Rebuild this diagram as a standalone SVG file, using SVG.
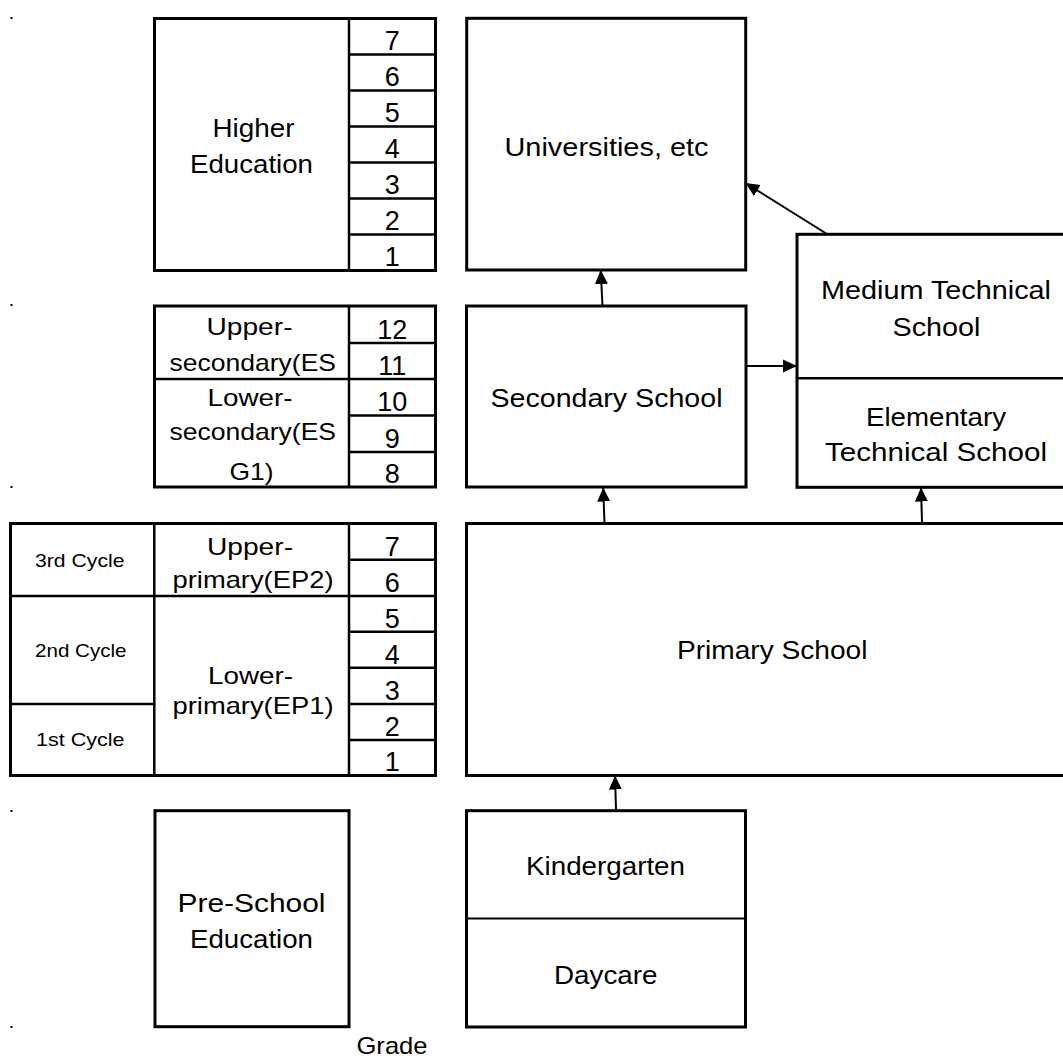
<svg xmlns="http://www.w3.org/2000/svg" width="1063" height="1059" viewBox="0 0 1063 1059">
<style>
.box{fill:#fff;stroke:#000;stroke-width:3}
.ln{stroke:#000;stroke-width:2.5;fill:none}
.thin{stroke:#000;stroke-width:2;fill:none}
text{font-family:"Liberation Sans",Arial,sans-serif;fill:#000}
.t{font-size:26px}
.s{font-size:24px}
.d{font-size:27px;text-anchor:middle}
.c{font-size:19px}
.conn{stroke:#000;stroke-width:2;fill:none;marker-end:url(#ah)}
</style>
<defs>
<marker id="ah" viewBox="0 0 14 14" refX="14" refY="7" markerWidth="14" markerHeight="14" markerUnits="userSpaceOnUse" orient="auto">
<path d="M0,0.5 L14,7 L0,13.5 z" fill="#000"/>
</marker>
</defs>
<rect width="1063" height="1059" fill="#fff"/>

<g id="margin-marks" fill="#000">
<rect x="10.5" y="17" width="2" height="2"/>
<rect x="10.5" y="304" width="2" height="2"/>
<rect x="10.5" y="486" width="2" height="2"/>
<rect x="10.5" y="810" width="2" height="2"/>
<rect x="10.5" y="1026" width="2" height="2"/>
</g>

<g id="higher-education">
<rect class="box" x="154.5" y="18.5" width="281" height="252"/>
<line class="ln" x1="349" y1="18.5" x2="349" y2="270.5"/>
<path class="ln" d="M349,54.5H435.5M349,90.5H435.5M349,126.5H435.5M349,162.5H435.5M349,198.5H435.5M349,234.5H435.5"/>
<text class="t" x="212.5" y="137.3" textLength="82" lengthAdjust="spacingAndGlyphs">Higher</text>
<text class="t" x="190" y="173.3" textLength="123" lengthAdjust="spacingAndGlyphs">Education</text>
<text class="d" x="392.3" y="49.5">7</text>
<text class="d" x="392.3" y="85.5">6</text>
<text class="d" x="392.3" y="121.5">5</text>
<text class="d" x="392.3" y="157.5">4</text>
<text class="d" x="392.3" y="193.5">3</text>
<text class="d" x="392.3" y="229.5">2</text>
<text class="d" x="392.3" y="265.5">1</text>
</g>

<g id="secondary-levels">
<rect class="box" x="154.5" y="306" width="281" height="181"/>
<line class="ln" x1="349" y1="306" x2="349" y2="487"/>
<line class="ln" x1="154.5" y1="379" x2="349" y2="379"/>
<path class="ln" d="M349,343H435.5M349,379H435.5M349,415.5H435.5M349,452H435.5"/>
<text class="s" x="206.5" y="335" textLength="86" lengthAdjust="spacingAndGlyphs">Upper-</text>
<text class="s" x="169.5" y="371" textLength="166.5" lengthAdjust="spacingAndGlyphs">secondary(ES</text>
<text class="s" x="207.5" y="406" textLength="85" lengthAdjust="spacingAndGlyphs">Lower-</text>
<text class="s" x="169.5" y="440" textLength="166.5" lengthAdjust="spacingAndGlyphs">secondary(ES</text>
<text class="s" x="229.5" y="480" textLength="44" lengthAdjust="spacingAndGlyphs">G1)</text>
<text class="d" x="392.3" y="338.5">12</text>
<text class="d" x="392.3" y="374.5">11</text>
<text class="d" x="392.3" y="411">10</text>
<text class="d" x="392.3" y="447.5">9</text>
<text class="d" x="392.3" y="482.5">8</text>
</g>

<g id="primary-levels">
<rect class="box" x="10.5" y="523.5" width="425" height="252"/>
<line class="ln" x1="154.3" y1="523.5" x2="154.3" y2="775.5"/>
<line class="ln" x1="349" y1="523.5" x2="349" y2="775.5"/>
<line class="ln" x1="10.5" y1="596" x2="435.5" y2="596"/>
<line class="ln" x1="10.5" y1="704" x2="154.3" y2="704"/>
<path class="ln" d="M349,559.7H435.5M349,631.8H435.5M349,667.8H435.5M349,704H435.5M349,740H435.5"/>
<text class="c" x="35" y="566.7" textLength="89.5" lengthAdjust="spacingAndGlyphs">3rd Cycle</text>
<text class="c" x="35" y="656.7" textLength="91.5" lengthAdjust="spacingAndGlyphs">2nd Cycle</text>
<text class="c" x="36" y="745.5" textLength="88.5" lengthAdjust="spacingAndGlyphs">1st Cycle</text>
<text class="s" x="207" y="555" textLength="86" lengthAdjust="spacingAndGlyphs">Upper-</text>
<text class="s" x="172.5" y="588" textLength="161" lengthAdjust="spacingAndGlyphs">primary(EP2)</text>
<text class="s" x="208" y="683.5" textLength="85" lengthAdjust="spacingAndGlyphs">Lower-</text>
<text class="s" x="172.5" y="714" textLength="161" lengthAdjust="spacingAndGlyphs">primary(EP1)</text>
<text class="d" x="392.3" y="555.5">7</text>
<text class="d" x="392.3" y="591.5">6</text>
<text class="d" x="392.3" y="627.5">5</text>
<text class="d" x="392.3" y="663.5">4</text>
<text class="d" x="392.3" y="699.5">3</text>
<text class="d" x="392.3" y="735.5">2</text>
<text class="d" x="392.3" y="771">1</text>
</g>

<g id="pre-school-education">
<rect class="box" x="155" y="810.7" width="194" height="216"/>
<text class="t" x="177.5" y="912" textLength="148" lengthAdjust="spacingAndGlyphs">Pre-School</text>
<text class="t" x="190" y="948" textLength="123" lengthAdjust="spacingAndGlyphs">Education</text>
</g>

<g id="grade-label">
<text x="356.5" y="1053.5" font-size="24" textLength="71" lengthAdjust="spacingAndGlyphs">Grade</text>
</g>

<g id="universities">
<rect class="box" x="466.7" y="18.3" width="279" height="251.7"/>
<text class="t" x="504.5" y="155.7" textLength="204" lengthAdjust="spacingAndGlyphs">Universities, etc</text>
</g>

<g id="secondary-school">
<rect class="box" x="466.5" y="306" width="279.5" height="181"/>
<text class="t" x="490.5" y="407" textLength="232" lengthAdjust="spacingAndGlyphs">Secondary School</text>
</g>

<g id="technical-schools">
<rect class="box" x="797" y="234.3" width="290" height="253"/>
<line class="ln" x1="797" y1="378.3" x2="1087" y2="378.3"/>
<text class="t" x="821" y="299" textLength="230" lengthAdjust="spacingAndGlyphs">Medium Technical</text>
<text class="t" x="892.5" y="335.5" textLength="88" lengthAdjust="spacingAndGlyphs">School</text>
<text class="t" x="866" y="425.7" textLength="140" lengthAdjust="spacingAndGlyphs">Elementary</text>
<text class="t" x="825" y="460.7" textLength="222" lengthAdjust="spacingAndGlyphs">Technical School</text>
</g>

<g id="primary-school">
<rect class="box" x="466.5" y="523.5" width="620" height="252"/>
<text class="t" x="677" y="659.3" textLength="190.5" lengthAdjust="spacingAndGlyphs">Primary School</text>
</g>

<g id="kindergarten-daycare">
<rect class="box" x="466.5" y="810.7" width="279" height="216.3"/>
<line class="thin" x1="466.5" y1="918.5" x2="745.5" y2="918.5"/>
<text class="t" x="526" y="875" textLength="159" lengthAdjust="spacingAndGlyphs">Kindergarten</text>
<text class="t" x="554" y="984" textLength="103.5" lengthAdjust="spacingAndGlyphs">Daycare</text>
</g>

<g id="connectors">
<line class="conn" x1="602.5" y1="306" x2="600.7" y2="270"/>
<line class="conn" x1="827" y1="234" x2="745.5" y2="183"/>
<line class="conn" x1="746" y1="366" x2="797" y2="366"/>
<line class="conn" x1="604.5" y1="523.5" x2="603.2" y2="487.5"/>
<line class="conn" x1="922" y1="522" x2="921" y2="487.5"/>
<line class="conn" x1="616" y1="810" x2="615" y2="775.5"/>
</g>
</svg>
